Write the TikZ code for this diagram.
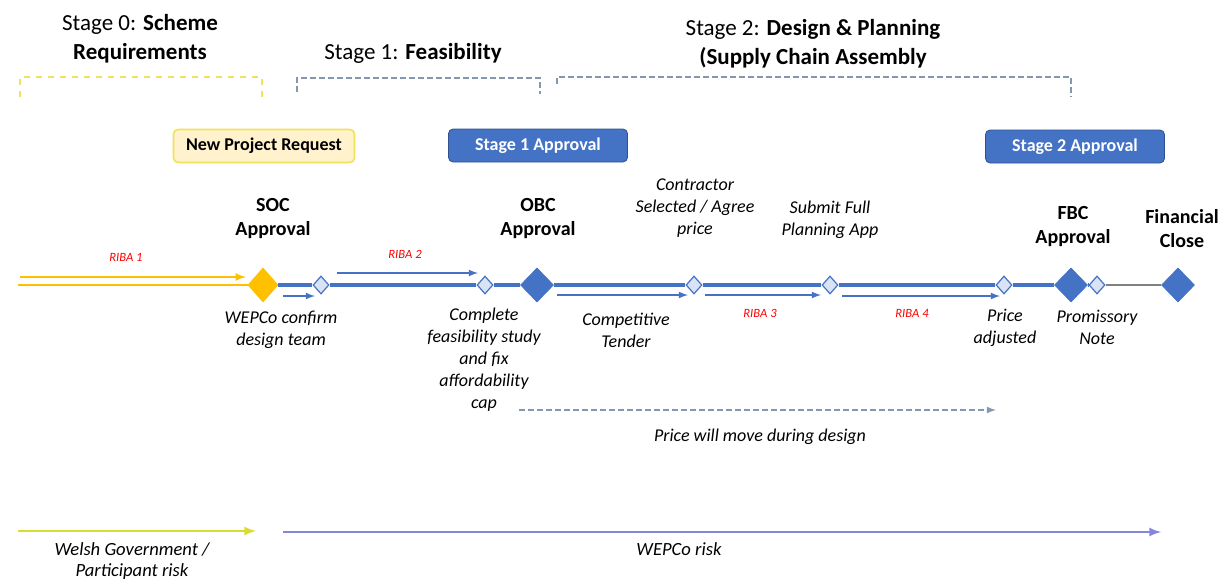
\documentclass[tikz,border=0pt]{standalone}
\usepackage{xcolor}
\usepackage{fontspec}
\setmainfont{Carlito}
\usepackage{tikz}
\usetikzlibrary{shapes,arrows,positioning}

\definecolor{gold}{HTML}{FFC000}
\definecolor{office}{HTML}{4472C4}
\definecolor{officedark}{HTML}{2F528F}
\definecolor{paleblue}{HTML}{DAE3F3}
\definecolor{paleyellow}{HTML}{FFF2CC}
\definecolor{boxyellow}{HTML}{F2E15A}
\definecolor{slate}{HTML}{8497B0}
\definecolor{riskyellow}{HTML}{DCDC30}
\definecolor{lavender}{HTML}{8585E0}
\definecolor{ribared}{HTML}{FF0000}

\begin{document}
\begin{tikzpicture}[
        x=0.5pt, y=-0.5pt,
        gate/.style={
            diamond,
            draw=office,
            fill=office,
            inner sep=0pt,
            minimum width=16.5pt,
            minimum height=17pt
        },
        checkpoint/.style={
            diamond,
            draw=office,
            fill=paleblue,
            line width=0.6pt,
            inner sep=0pt,
            minimum width=8pt,
            minimum height=9pt
        },
        stagebox/.style={
            draw=officedark,
            fill=office,
            text=white,
            rounded corners=0.08cm,
            minimum width=89.5pt,
            minimum height=16.5pt,
            font=\fontsize{9}{10}\selectfont\bfseries
        },
        header/.style={
            align=center,
            font=\fontsize{11.5}{14.5}\selectfont
        },
        milestone/.style={
            align=center,
            font=\fontsize{10}{12}\selectfont\bfseries
        },
        note/.style={
            align=center,
            font=\fontsize{9}{11}\selectfont\itshape
        },
        riba/.style={
            text=ribared,
            font=\fontsize{6.3}{7}\selectfont\itshape
        },
        step arrow/.style={
            -latex,
            draw=office,
            line width=0.6pt
        }
    ]

    \useasboundingbox (0,0) rectangle (1226,579);

    % stage headings
    \node[header] (stage0) at (140,39) {Stage 0: \textbf{Scheme}\\\textbf{Requirements}};
    \node[header] (stage1) at (413,53) {Stage 1: \textbf{Feasibility}};
    \node[header] (stage2) at (813,44) {Stage 2: \textbf{Design \& Planning}\\\textbf{(Supply Chain Assembly}};

    \draw[
        color=boxyellow,
        line width=0.6pt,
        dashed
    ] (20,97) -- (20,77) -- (262,77) -- (262,97);

    \draw[
        color=slate,
        line width=0.6pt,
        dash pattern=on 3pt off 1.5pt
    ] (297,92) -- (297,78) -- (540,78) -- (540,94);

    \draw[
        color=slate,
        line width=0.6pt,
        dash pattern=on 3pt off 1.5pt
    ] (557,84) -- (557,77) -- (1071,77) -- (1071,97);

    % approval boxes
    \node[
        draw=boxyellow,
        fill=paleyellow,
        line width=0.8pt,
        rounded corners=0.08cm,
        minimum width=90.5pt,
        minimum height=16.5pt,
        font=\fontsize{9}{10}\selectfont\bfseries
    ] (request) at (264,146) {New Project Request};
    \node[stagebox] (approval1) at (538,145.5) {Stage 1 Approval};
    \node[stagebox] (approval2) at (1075,146.5) {Stage 2 Approval};

    % milestones on the time line
    \node[gate, draw=gold, fill=gold, minimum width=15pt] (soc) at (263,285) {};
    \node[checkpoint] (team) at (321,285) {};
    \node[checkpoint] (study) at (485,285) {};
    \node[gate] (obc) at (537,285) {};
    \node[checkpoint] (contractor) at (694,285) {};
    \node[checkpoint] (planning) at (830,285) {};
    \node[checkpoint] (adjusted) at (1004,285) {};
    \node[gate] (fbc) at (1071,285) {};
    \node[checkpoint] (promissory) at (1097,285) {};
    \node[gate] (close) at (1178,285) {};

    \draw[
        color=office,
        line width=1.6pt
    ] (soc) -- (team) -- (study) -- (obc) -- (contractor) -- (planning) -- (adjusted) -- (fbc) -- (promissory);
    \draw[
        color=gray,
        line width=0.6pt
    ] (promissory) -- (close);

    \coordinate (start) at (18,285);
    \draw[color=gold, line width=0.8pt] (start) -- (soc);
    \coordinate (riba1a) at (20,277);
    \coordinate (riba1b) at (246,277);
    \draw[-latex, color=gold, line width=0.8pt] (riba1a) -- (riba1b);

    % offset arrows
    \coordinate (teama) at (283,296);
    \coordinate (teamb) at (315,296);
    \coordinate (riba2a) at (337,273);
    \coordinate (riba2b) at (478,273);
    \coordinate (tendera) at (557,295);
    \coordinate (tenderb) at (688,295);
    \coordinate (riba3a) at (705,295);
    \coordinate (riba3b) at (821,295);
    \coordinate (riba4a) at (842,296);
    \coordinate (riba4b) at (1000,296);
    \draw[step arrow] (teama) -- (teamb);
    \draw[step arrow] (riba2a) -- (riba2b);
    \draw[step arrow] (tendera) -- (tenderb);
    \draw[step arrow] (riba3a) -- (riba3b);
    \draw[step arrow] (riba4a) -- (riba4b);

    \node[riba] (riba1) at (126,257) {RIBA 1};
    \node[riba] (riba2) at (405,254) {RIBA 2};
    \node[riba] (riba3) at (760,313) {RIBA 3};
    \node[riba] (riba4) at (912,313) {RIBA 4};

    % labels
    \node[milestone] (soclabel) at (273,219) {SOC\\Approval};
    \node[milestone] (obclabel) at (538,219) {OBC\\Approval};
    \node[milestone] (fbclabel) at (1073,227) {FBC\\Approval};
    \node[milestone] (closelabel) at (1182,229) {Financial\\Close};

    \node[note] (contractorlabel) at (695,208) {Contractor\\Selected / Agree\\price};
    \node[note] (planninglabel) at (830,220) {Submit Full\\Planning App};
    \node[note] (teamlabel) at (281,330) {WEPCo confirm\\design team};
    \node[note] (studylabel) at (484,360) {Complete\\feasibility study\\and fix\\affordability\\cap};
    \node[note] (tenderlabel) at (626,330) {Competitive\\Tender};
    \node[note] (adjustedlabel) at (1005,328) {Price\\adjusted};
    \node[note] (promissorylabel) at (1097,327) {Promissory\\Note};

    % price movement
    \coordinate (movea) at (519,410);
    \coordinate (moveb) at (996,410);
    \draw[
        -latex,
        color=slate,
        line width=0.6pt,
        dash pattern=on 3pt off 1.5pt
    ] (movea) -- (moveb);
    \node[note] (movelabel) at (760,437) {Price will move during design};

    % risk bands
    \coordinate (wga) at (18,531);
    \coordinate (wgb) at (256,531);
    \coordinate (wepcoa) at (283,532);
    \coordinate (wepcob) at (1161,532);
    \draw[-latex, color=riskyellow, line width=1pt] (wga) -- (wgb);
    \draw[-latex, color=lavender, line width=1pt] (wepcoa) -- (wepcob);
    \node[note, font=\fontsize{9.3}{10.5}\selectfont\itshape] (wglabel) at (132,561) {Welsh Government /\\Participant risk};
    \node[note, font=\fontsize{9.3}{10.5}\selectfont\itshape] (wepcolabel) at (679,549) {WEPCo risk};

\end{tikzpicture}
\end{document}
